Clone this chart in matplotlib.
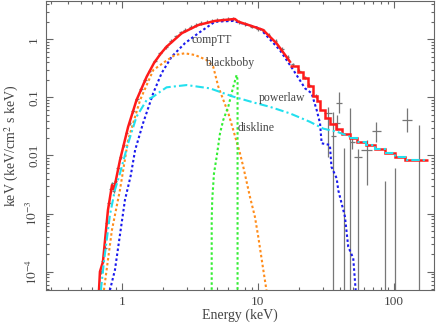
import numpy as np
import matplotlib
matplotlib.use("Agg")
import matplotlib.pyplot as plt

# --- data (keV, keV^2 ph/cm^2/s/keV) ---
# total model, smooth part (fine bins)
tot_e = [0.678, 0.689, 0.725, 0.789, 0.845, 0.874, 0.967, 1.11, 1.28, 1.52, 1.72, 1.92,
         2.13, 2.75, 3.64, 4.83, 6.77, 7.17, 8.6, 10.9, 13.7, 16.2, 17.2]
tot_f = [4.8e-5, 1.0e-4, 1.48e-4, 1.15e-3, 3.1e-3, 2.6e-3, 8.3e-3, 0.031, 0.090, 0.227, 0.39,
         0.56, 0.746, 1.27, 1.76, 2.07, 2.24, 2.01, 1.75, 1.45, 0.853, 0.50, 0.41]
# total model, coarse bins at high energy (bin edges + values)
step_edges = [17.2, 19.7, 21.6, 23.5, 25.2, 27.1, 28.8, 31.1, 33.8, 37.5, 41.5, 47.5,
              53.9, 62.3, 72.5, 85.9, 102, 120, 143, 178]
step_tot = [0.347, 0.274, 0.216, 0.157, 0.106, 0.0867, 0.0607, 0.0442, 0.0348, 0.0286,
            0.0239, 0.0204, 0.0173, 0.0149, 0.0128, 0.0110, 0.0095, 0.0085, 0.0084]

# compTT
comptt_e = [0.816, 0.888, 1.052, 1.16, 1.25, 1.43, 1.70, 1.96, 2.32, 2.90, 3.64, 4.83, 6.58,
            10.3, 14.5, 18.2, 22.2, 24.8, 27.0, 28.6, 29.4, 33.8, 34.7, 37.9, 39.0, 43.6,
            46.1, 50.2, 52.6]
comptt_f = [4.8e-5, 1.07e-4, 1.71e-3, 4.5e-3, 0.0124, 0.036, 0.119, 0.263, 0.502, 0.853, 1.27,
            2.01, 2.07, 1.55, 0.65, 0.296, 0.143, 0.118, 0.061, 0.036, 0.0162, 0.0152, 6.4e-3,
            4.05e-3, 2.5e-3, 8.9e-4, 2.7e-4, 1.7e-4, 4.0e-5]

# blackbody
bb_e = [0.737, 0.844, 0.967, 1.11, 1.36, 1.70, 2.07, 2.45, 2.90, 3.44, 4.20, 4.69, 5.11,
        6.05, 6.58, 7.37, 7.80, 8.73, 9.50, 10.05, 10.9, 11.6]
bb_f = [4.8e-5, 5.2e-4, 2.55e-3, 0.0185, 0.090, 0.296, 0.411, 0.537, 0.574, 0.537, 0.44,
        0.337, 0.153, 0.054, 0.0275, 0.011, 6.4e-3, 1.95e-3, 8.8e-4, 4.0e-4, 1.15e-4, 4.5e-5]

# powerlaw (smooth part, then binned like the total)
pl_e = [0.70, 0.737, 0.816, 0.888, 0.967, 1.11, 1.28, 1.52, 1.70, 1.85, 2.13, 2.99, 4.44,
        6.58, 9.78, 12.2, 17.2, 24.1, 30.2, 38.0, 47.5]
pl_f = [4.8e-5, 1.48e-4, 9.5e-4, 2.55e-3, 4.9e-3, 0.0162, 0.0466, 0.090, 0.103, 0.119, 0.149,
        0.163, 0.143, 0.103, 0.079, 0.069, 0.053, 0.038, 0.029, 0.0257, 0.0211]
pl_step_edges = [47.5, 53.9, 62.3, 72.5, 85.9, 102, 120, 143, 178]
pl_step = [0.0204, 0.0173, 0.0149, 0.0128, 0.0110, 0.0095, 0.0085, 0.0084]

# diskline
dl_e = [4.57, 4.57, 4.61, 4.75, 4.97, 5.26, 5.56, 6.05, 6.55, 6.97, 7.08, 7.08]
dl_f = [4.0e-5, 7.8e-4, 1.71e-3, 4.9e-3, 9.5e-3, 0.024, 0.041, 0.069, 0.145, 0.243, 0.20, 4.0e-5]

# data, dense low-energy part
d_e = [0.70, 0.72, 0.75, 0.78, 0.80, 0.83, 0.85, 0.87, 0.90, 0.94, 0.98, 1.03, 1.08, 1.14,
       1.21, 1.29, 1.38, 1.48, 1.60, 1.75, 1.90, 2.1, 2.3, 2.5, 2.7, 2.9, 3.2, 3.5, 3.8,
       4.2, 4.6, 5.0, 5.5, 6.0, 6.6, 7.3, 8.0, 9.0, 10.0, 11.0, 12.0, 13.5, 15.0, 16.5,
       18.0, 20.0, 22.0, 23.8, 26.5]
d_f = [1.0e-4, 1.5e-4, 2.6e-4, 7.0e-4, 1.5e-3, 2.6e-3, 3.3e-3, 2.4e-3, 3.6e-3, 6.0e-3,
       9.5e-3, 0.015, 0.024, 0.036, 0.058, 0.092, 0.14, 0.20, 0.29, 0.43, 0.57, 0.74, 0.93,
       1.12, 1.32, 1.45, 1.62, 1.78, 1.90, 2.02, 2.10, 2.15, 2.20, 2.22, 2.25, 2.0, 1.85,
       1.65, 1.5, 1.38, 1.2, 0.95, 0.68, 0.5, 0.37, 0.29, 0.22, 0.165, 0.105]

# data, sparse high-energy part (value, lower end, upper end; 1e-7 = off scale)
h_e = [32.6, 35.8, 38.1, 39.3, 43.0, 47.5, 49.3, 54.5, 63.0, 74.0, 86.0, 102, 125, 154]
h_elo = [30.6, 34.2, 36.3, 37.3, 41.0, 45.3, 47.3, 51.1, 57.6, 68.6, 80.0, 95.0, 114, 142]
h_ehi = [34.9, 37.5, 40.0, 41.5, 45.0, 49.6, 51.4, 57.8, 68.9, 80.3, 93.0, 110, 136.6, 168]
h_f = [0.053, 0.0217, 0.0358, 0.081, 2e-6, 2e-6, 0.0173, 9.5e-3, 0.0124, 0.0264,
       2e-6, 2e-6, 0.041, 2e-6]
h_flo = [9.5e-3, 1e-7, 0.028, 0.053, 1e-7, 1e-7, 0.0128, 1e-7, 3.1e-3, 0.0173, 1e-7, 1e-7,
         0.0256, 1e-7]
h_fhi = [0.069, 0.0567, 0.050, 0.125, 0.0133, 0.0657, 0.021, 0.0128, 0.0184, 0.0373,
         3.7e-3, 6.0e-3, 0.065, 0.0335]

plt.rcParams["font.family"] = ["Liberation Serif", "DejaVu Serif"]
plt.rcParams["mathtext.fontset"] = "stix"
TXT = "#444444"
GREY = "#777777"

fig = plt.figure(figsize=(4.36, 3.25), dpi=100)
ax = fig.add_axes([0.1048, 0.1077, 0.8913, 0.8892])
ax.set_xscale("log")
ax.set_yscale("log")

# data
d_e_a = np.array(d_e)
d_f_a = np.array(d_f)
ax.errorbar(d_e_a, d_f_a, xerr=0.03 * d_e_a, yerr=0.07 * d_f_a, fmt="none",
            ecolor=GREY, elinewidth=0.9, zorder=2)
h_e_a, h_f_a = np.array(h_e), np.array(h_f)
ax.errorbar(h_e_a, h_f_a,
            xerr=[h_e_a - np.array(h_elo), np.array(h_ehi) - h_e_a],
            yerr=[h_f_a - np.array(h_flo), np.array(h_fhi) - h_f_a],
            fmt="none", ecolor=GREY, elinewidth=0.9, zorder=2)

# total model
red = "#ff1a1a"
ax.plot(tot_e, tot_f, color=red, lw=1.8, zorder=5)
ax.stairs(step_tot, step_edges, baseline=None, color=red, lw=1.8, zorder=5)

# components
ax.plot(comptt_e, comptt_f, color="#1a1aee", lw=1.5, ls=(0, (1.2, 1.2)), zorder=4)
ax.plot(bb_e, bb_f, color="#ff8c1a", lw=1.5, ls=(0, (1.2, 1.2)), zorder=4)
cyan = "#22e0ee"
ax.plot(pl_e, pl_f, color=cyan, lw=1.5, ls=(0, (4, 1.5, 1, 1.5)), zorder=6)
ax.stairs(pl_step, pl_step_edges, baseline=None, color=cyan, lw=1.5,
          ls=(0, (4, 1.5, 1, 1.5)), zorder=6)
ax.plot(dl_e, dl_f, color="#33ee33", lw=1.5, ls=(0, (1.2, 1.2)), zorder=4)

# labels on components
lab_kw = dict(fontsize=8.5, color=TXT, va="center", ha="left", zorder=8)
ax.text(3.27, 0.97, "compTT", **lab_kw)
ax.text(4.08, 0.39, "blackboby", **lab_kw)
ax.text(10.2, 0.098, "powerlaw", **lab_kw)
ax.text(7.13, 0.0297, "diskline", **lab_kw)

ax.set_xlim(0.275, 198)
ax.set_ylim(4.84e-5, 4.56)

ax.set_xticks([1, 10, 100])
ax.set_xticklabels(["1", "10", "100"])
ax.set_yticks([1e-4, 1e-3, 1e-2, 0.1, 1])
ax.set_yticklabels([r"$10^{-4}$", r"$10^{-3}$", "0.01", "0.1", "1"])
for lbl in ax.get_yticklabels():
    lbl.set_rotation(90)
    lbl.set_va("center")

ax.tick_params(which="both", direction="in", top=True, right=True, colors="#666666",
               labelcolor=TXT, labelsize=9.5, width=0.8)
ax.tick_params(which="major", length=5, pad=4)
ax.tick_params(which="minor", length=2.5)
for s in ax.spines.values():
    s.set_color("#666666")
    s.set_linewidth(0.8)

ax.set_xlabel("Energy (keV)", fontsize=10, color=TXT, labelpad=1)
ax.set_ylabel(r"keV (keV/cm$^2$ s keV)", fontsize=10, color=TXT, labelpad=3)

fig.savefig("out.png", dpi=100)
